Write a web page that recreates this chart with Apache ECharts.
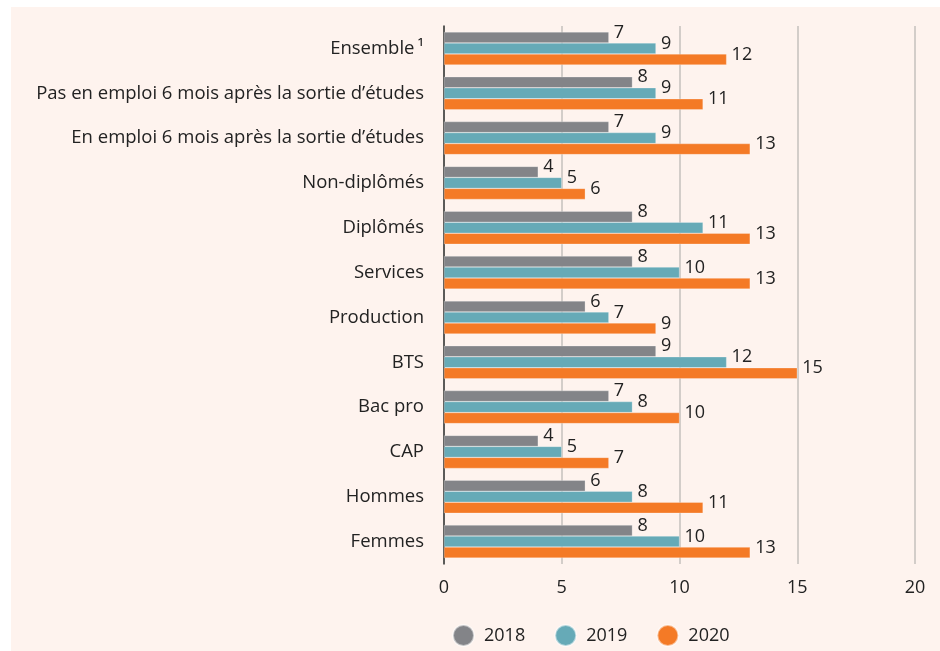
<!DOCTYPE html>
<html>
<head>
<meta charset="utf-8">
<script src="https://cdn.jsdelivr.net/npm/echarts@6/dist/echarts.min.js"></script>
<style>
  html, body { margin: 0; padding: 0; background: #ffffff; }
  #wrap { position: absolute; left: 11px; top: 7px; width: 929px; height: 644px; background: #fef3ee; }
  #chart { position: absolute; left: 0; top: 0; width: 940px; height: 651px; }
</style>
</head>
<body>
<div id="wrap"></div>
<div id="chart"></div>
<script>
// categories, top to bottom
const categories = [
  'Ensemble\u2009¹',
  'Pas en emploi 6 mois après la sortie d’études',
  'En emploi 6 mois après la sortie d’études',
  'Non-diplômés',
  'Diplômés',
  'Services',
  'Production',
  'BTS',
  'Bac pro',
  'CAP',
  'Hommes',
  'Femmes'
]
const values2018 = [7, 8, 7, 4, 8, 8, 6, 9, 7, 4, 6, 8]
const values2019 = [9, 9, 9, 5, 11, 10, 7, 12, 8, 5, 8, 10]
const values2020 = [12, 11, 13, 6, 13, 13, 9, 15, 10, 7, 11, 13]
const years = ['2018', '2019', '2020']
const colors = ['#838488', '#66aab7', '#f47a26']

const font = '"Open Sans", sans-serif'

function makeSeries (name, data, color) {
  return {
    name: name,
    type: 'bar',
    data: data,
    barWidth: 11,
    barGap: '0%',
    itemStyle: {
      color: color,
      borderColor: 'rgba(255,255,255,0.5)',
      borderWidth: 0.5
    },
    label: {
      show: true,
      position: 'right',
      distance: 5,
      offset: [0, -5],
      color: '#222',
      fontSize: 18,
      fontFamily: font
    }
  }
}

const chart = echarts.init(document.getElementById('chart'))
chart.setOption({
  backgroundColor: 'transparent',
  animation: false,
  textStyle: { fontFamily: font },
  grid: {
    left: 444,
    right: 25,
    top: 26,
    bottom: 87
  },
  legend: {
    left: 447,
    top: 619,
    icon: 'circle',
    itemWidth: 21,
    itemHeight: 21,
    itemGap: 29,
    data: years,
    textStyle: {
      color: '#222',
      fontSize: 18,
      fontFamily: font,
      padding: [0, 0, 0, 5]
    }
  },
  xAxis: {
    type: 'value',
    min: 0,
    max: 20,
    interval: 5,
    axisLine: { show: false },
    axisTick: { show: false },
    axisLabel: {
      color: '#222',
      fontSize: 18,
      margin: 15,
      fontFamily: font
    },
    splitLine: {
      show: true,
      lineStyle: { color: '#c4c0bd', width: 1.5 }
    }
  },
  yAxis: {
    type: 'category',
    inverse: true,
    data: categories,
    axisLine: {
      show: true,
      lineStyle: { color: '#333', width: 1.5 }
    },
    axisTick: { show: false },
    axisLabel: {
      color: '#222',
      fontSize: 18.5,
      margin: 20,
      fontFamily: font
    }
  },
  series: [
    makeSeries(years[0], values2018, colors[0]),
    makeSeries(years[1], values2019, colors[1]),
    makeSeries(years[2], values2020, colors[2])
  ]
})
</script>
</body>
</html>
